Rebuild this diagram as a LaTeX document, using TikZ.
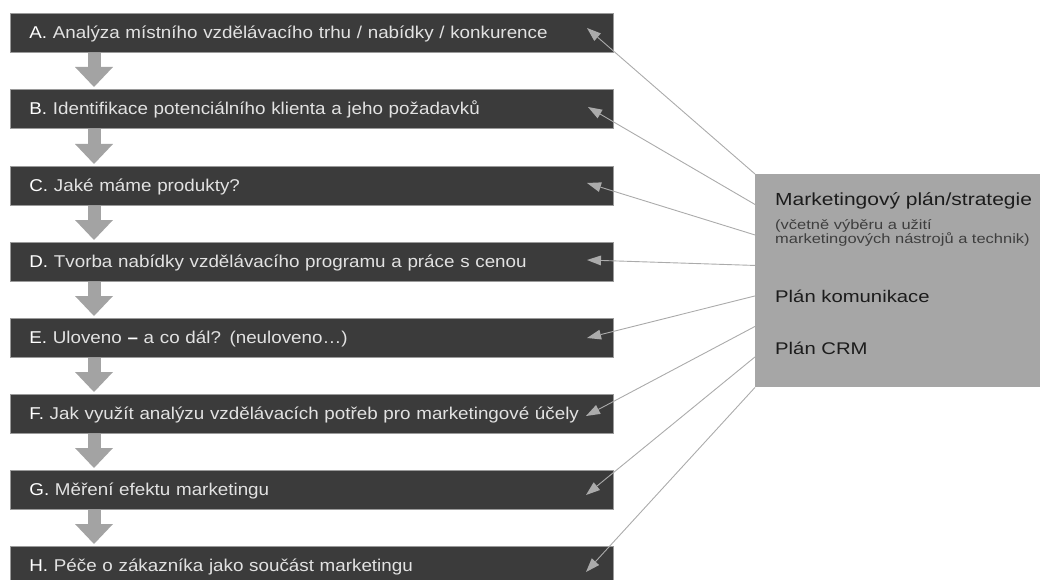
\documentclass[tikz,border=0pt]{standalone}
\usepackage{fontspec}
\setmainfont{Liberation Sans}
\newfontfamily\boxfont[FakeStretch=1.1]{Liberation Sans}
\newfontfamily\titlefont[FakeStretch=1.2]{Liberation Sans}
\newfontfamily\subfont[FakeStretch=1.22]{Liberation Sans}
\usetikzlibrary{arrows.meta,calc}
\definecolor{boxdark}{HTML}{3B3B3B}
\definecolor{boxedge}{HTML}{9A9A9A}
\definecolor{txtlight}{HTML}{E2E2E2}
\definecolor{arrgray}{HTML}{A3A3A3}
\definecolor{panelgray}{HTML}{A6A6A6}
\definecolor{conngray}{HTML}{ABABAB}
\definecolor{paneltext}{HTML}{1C1C1C}
\begin{document}
\begin{tikzpicture}[x=1pt,y=-1pt,
  stepbox/.style={draw=boxedge, line width=0.8pt, fill=boxdark, anchor=north west,
    minimum width=603pt, minimum height=39pt, text width=565pt, inner xsep=19pt,
    inner ysep=0pt, align=left, text=txtlight, font=\boxfont\fontsize{17.1}{20}\selectfont,
    text height=10.4pt, text depth=0pt},
  downarr/.style={draw=arrgray, line width=13pt,
    -{Triangle[length=20pt,width=38pt,line width=0pt,fill=arrgray]}},
  conn/.style={draw=conngray, line width=0.9pt,
    -{Triangle[length=14pt,width=10pt,line width=0pt,fill=conngray]}},
  paneltitle/.style={anchor=base west, inner sep=0pt, text=paneltext,
    font=\titlefont\fontsize{16.9}{20}\selectfont},
  panelsub/.style={anchor=base west, inner sep=0pt, text=paneltext!85!white,
    font=\subfont\fontsize{13.5}{15}\selectfont}
]
\path[use as bounding box, clip] (0,0) rectangle (1040,580);

% step boxes
\node[stepbox] (A) at (10,13)  {\textcolor{white}{A.} Analýza místního vzdělávacího trhu / nabídky / konkurence};
\node[stepbox] (B) at (10,89)  {\textcolor{white}{B.} Identifikace potenciálního klienta a jeho požadavků};
\node[stepbox] (C) at (10,166) {\textcolor{white}{C.} Jaké máme produkty?};
\node[stepbox] (D) at (10,242) {\textcolor{white}{D.} Tvorba nabídky vzdělávacího programu a práce s cenou};
\node[stepbox] (E) at (10,318) {\textcolor{white}{E.} Uloveno \textcolor{white}{\bfseries –} a co dál? (neuloveno…)};
\node[stepbox] (F) at (10,394) {\textcolor{white}{F.} Jak využít analýzu vzdělávacích potřeb pro marketingové účely};
\node[stepbox] (G) at (10,470) {\textcolor{white}{G.} Měření efektu marketingu};
\node[stepbox] (H) at (10,546) {\textcolor{white}{H.} Péče o zákazníka jako součást marketingu};

% down arrows
\coordinate (col) at (94,0);
\foreach \a/\b in {A/B,B/C,C/D,D/E,E/F,F/G,G/H}{
  \draw[downarr] (\a.south -| col) -- ($(\b.north -| col)+(0,-2)$);
}

% panel
\node[fill=panelgray, anchor=north west, minimum width=285pt, minimum height=213pt,
  inner sep=0pt] (M) at (755,174) {};
\node[paneltitle, font=\titlefont\fontsize{17.5}{20}\selectfont] (m1) at (775,205) {Marketingový plán/strategie};
\node[panelsub] (m2) at (775,229.5) {(včetně výběru a užití};
\node[panelsub] (m3) at (775,243) {marketingových nástrojů a technik)};
\node[paneltitle] (m4) at (775,302) {Plán komunikace};
\node[paneltitle] (m5) at (775,354) {Plán CRM};

% connector ends
\coordinate (tA) at (587,28);
\coordinate (tB) at (588,107);
\coordinate (tC) at (587,183);
\coordinate (tD) at (587,260);
\coordinate (tE) at (587,338);
\coordinate (tF) at (586,416);
\coordinate (tG) at (586,495);
\coordinate (tH) at (586,572);
\foreach \n [count=\i from 0] in {A,B,C,D,E,F,G,H}{
  \coordinate (s\n) at ($(M.north west)!\i/7!(M.south west)$);
  \draw[conn] (s\n) -- (t\n);
}
\end{tikzpicture}
\end{document}
